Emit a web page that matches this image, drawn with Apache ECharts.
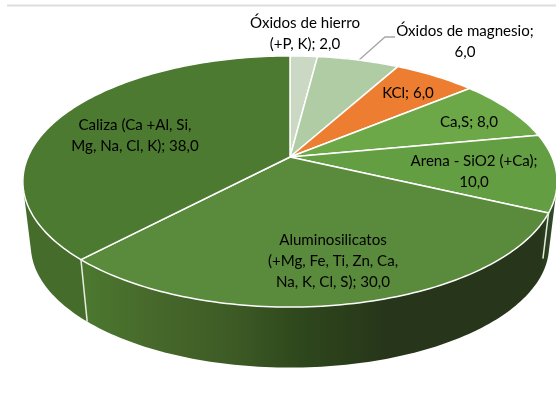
<!DOCTYPE html>
<html>
<head>
<meta charset="utf-8">
<style>html,body{margin:0;padding:0;background:#fff}#c{width:556px;height:419px}</style>
<script src="https://cdn.jsdelivr.net/npm/echarts@6/dist/echarts.min.js"></script>
</head>
<body>
<div id="c"></div>
<script>
// Data, clockwise from 12 o'clock
var categories = ['Óxidos de hierro (+P, K)', 'Óxidos de magnesio', 'KCl', 'Ca,S', 'Arena - SiO2 (+Ca)', 'Aluminosilicatos (+Mg, Fe, Ti, Zn, Ca, Na, K, Cl, S)', 'Caliza (Ca +Al, Si, Mg, Na, Cl, K)'];
var values = [2, 6, 6, 8, 10, 30, 38];
var labelTexts = [
  'Óxidos de hierro\n(+P, K); 2,0',
  'Óxidos de magnesio;\n6,0',
  'KCl; 6,0',
  'Ca,S; 8,0',
  'Arena - SiO2 (+Ca);\n10,0',
  'Aluminosilicatos\n(+Mg, Fe, Ti, Zn, Ca,\nNa, K, Cl, S); 30,0',
  'Caliza (Ca +Al, Si,\nMg, Na, Cl, K); 38,0'
];
var topColors = ['#cbd9c4', '#b0cca4', '#ed7d31', '#6ca847', '#649e42', '#5a8a3b', '#4c7a30'];

// Styles and layout, kept apart from the data
var labelCentres = [[305, 34], [465, 42], [408, 93], [469, 122], [474, 172], [333, 261], [135, 135.5]];
var wallOrder = [6, 0, 1, 2, 3, 4, 5];                   // painter's order of the wall pieces
var CX = 290, CY = 157, A = 262, B = 120.8, K = 0.195;   // projected top disc
var LOW_CY = 222, LOW_S = 0.97;                          // projected bottom disc
var total = values.reduce(function (a, b) { return a + b; }, 0);

function project(theta, low) {
  var u = Math.sin(theta), v = -Math.cos(theta), d = 1 - K * v;
  var s = low ? LOW_S : 1;
  return [CX + s * A * u / d, (low ? LOW_CY : CY) + s * B * v / d];
}
function sliceAngles(i) {
  var before = 0;
  for (var j = 0; j < i; j++) before += values[j];
  return [before / total * 2 * Math.PI, (before + values[i]) / total * 2 * Math.PI];
}
function arc(a0, a1, low) {
  var n = Math.max(2, Math.ceil((a1 - a0) / 0.02)), pts = [];
  for (var i = 0; i <= n; i++) pts.push(project(a0 + (a1 - a0) * i / n, low));
  return pts;
}
// Convex outline of a wall piece: gives the straight tangents of the cylinder's silhouette
function hull(points) {
  var p = points.slice().sort(function (a, b) { return a[0] - b[0] || a[1] - b[1]; });
  function cross(o, a, b) { return (a[0] - o[0]) * (b[1] - o[1]) - (a[1] - o[1]) * (b[0] - o[0]); }
  function half(list) {
    var h = [];
    list.forEach(function (q) {
      while (h.length >= 2 && cross(h[h.length - 2], h[h.length - 1], q) <= 0) h.pop();
      h.push(q);
    });
    h.pop();
    return h;
  }
  return half(p).concat(half(p.slice().reverse()));
}
var sideFill = new echarts.graphic.LinearGradient(22, 0, 556, 0, [
  { offset: 0, color: '#416a27' },
  { offset: 0.1, color: '#4c7a30' },
  { offset: 0.24, color: '#47692b' },
  { offset: 0.4, color: '#3d5a25' },
  { offset: 0.52, color: '#2e471c' },
  { offset: 0.68, color: '#27361a' },
  { offset: 0.97, color: '#27361a' },
  { offset: 1, color: '#31502a' }
], true);
var calizaWall = '#456c2a';

var option = {
  animation: false,
  backgroundColor: '#ffffff',
  graphic: [
    { type: 'line', z: 1, silent: true, shape: { x1: 7, y1: 5.5, x2: 556, y2: 5.5 }, style: { stroke: '#dedede', lineWidth: 2 } },
    { type: 'polyline', z: 1, silent: true, shape: { points: [[359, 60], [385, 37], [395, 37]] }, style: { stroke: '#a6a6a6', lineWidth: 1.3, fill: null } }
  ],
  series: [
    { // wall of the disc
      type: 'custom', coordinateSystem: 'none', z: 2, silent: true, clip: false,
      data: wallOrder,
      renderItem: function (p, api) {
        var i = api.value(0);
        var a = sliceAngles(i);
        var pts = hull(arc(a[0], a[1], false).concat(arc(a[0], a[1], true)));
        return { type: 'polygon', shape: { points: pts },
          style: { fill: i === 6 ? calizaWall : sideFill } };
      }
    },
    { // top face
      type: 'custom', coordinateSystem: 'none', z: 3, silent: true, clip: false,
      data: values,
      renderItem: function (p) {
        var a = sliceAngles(p.dataIndex);
        return { type: 'polygon', shape: { points: [[CX, CY]].concat(arc(a[0], a[1], false)) },
          style: { fill: topColors[p.dataIndex], stroke: '#ffffff', lineWidth: 1.5, lineJoin: 'round' } };
      }
    },
    { // white edges on the visible wall
      type: 'custom', coordinateSystem: 'none', z: 4, silent: true, clip: false,
      data: [4, 5],
      renderItem: function (p, api) {
        var a = sliceAngles(api.value(0))[1];
        var t = project(a, false), b = project(a, true);
        var f = api.value(0) === 4 ? 0.72 : 1;
        return { type: 'line', shape: { x1: t[0], y1: t[1], x2: t[0] + (b[0] - t[0]) * f, y2: t[1] + (b[1] - t[1]) * f },
          style: { stroke: '#e6ece0', lineWidth: 1.5 } };
      }
    },
    { // labels
      type: 'custom', coordinateSystem: 'none', z: 5, silent: true, clip: false,
      data: values,
      renderItem: function (p) {
        var c = labelCentres[p.dataIndex];
        return { type: 'text', x: c[0], y: c[1],
          style: { text: labelTexts[p.dataIndex], align: 'center', verticalAlign: 'middle',
            fill: '#000000', font: '15.1px Lato', lineHeight: 21 } };
      }
    }
  ]
};
echarts.init(document.getElementById('c')).setOption(option);
</script>
</body>
</html>
